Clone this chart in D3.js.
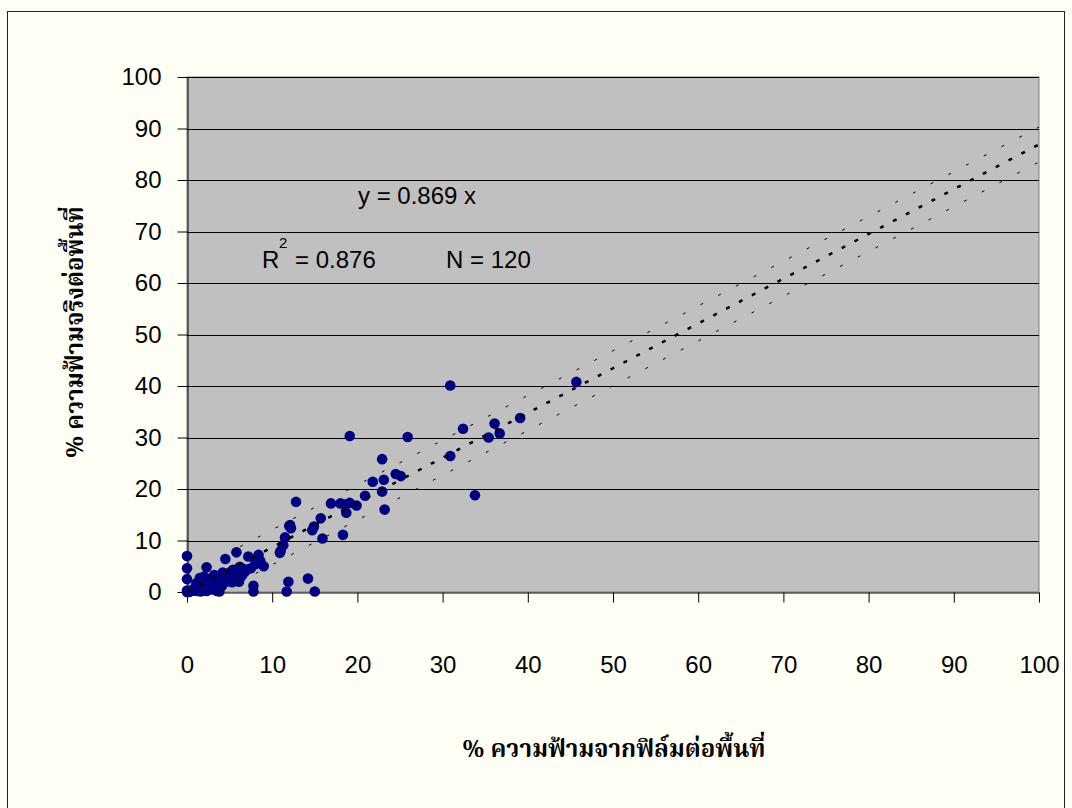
<!DOCTYPE html>
<html>
<head>
<meta charset="utf-8">
<script src="https://cdn.jsdelivr.net/npm/d3@7"></script>
<style>
	body { margin: 0; background: #fffff6; }
	svg { display: block; }
	.tick text { font-family: "Liberation Sans", Arial, sans-serif; font-size: 24px; fill: #000; }
	.note { font-family: "Liberation Sans", Arial, sans-serif; font-size: 24px; fill: #000; }
	.title { font-family: Tahoma, "Noto Serif Thai", "Noto Sans Thai", serif; font-weight: bold; font-size: 24px; fill: #000; }
</style>
</head>
<body>
<div id="chart"></div>
<script>
// % dark area read from film (x) and measured on the ground (y), 120 plots
const filmPct = [
	0, 0, 0, 0, 0, 0.5, 0.8, 1.1, 1.1, 1.4,
	1.7, 1.9, 2.0, 2.2, 2.3, 2.3, 2.5, 2.7, 2.8, 2.9,
	3.0, 3.2, 3.3, 3.5, 3.6, 3.8, 3.9, 4.0, 4.2, 4.3,
	4.5, 4.6, 4.8, 4.9, 5.0, 5.2, 5.4, 5.5, 5.6, 5.8,
	5.8, 6.0, 6.2, 6.3, 6.5, 6.8, 7.0, 7.2, 7.8, 7.8,
	8.1, 8.4, 8.6, 9.0, 1.5, 3.4, 4.1, 2.6, 5.3, 6.1,
	7.5, 8.0, 10.9, 11.3, 11.5, 11.9, 11.7, 12.1, 12.2, 12.8,
	14.2, 15.0, 14.7, 14.9, 15.7, 15.9, 16.9, 18.0, 18.7, 18.3,
	19.1, 19.9, 20.9, 19.1, 11.0, 21.8, 22.9, 23.1, 22.9, 23.2,
	24.5, 25.1, 25.9, 30.9, 32.4, 30.9, 33.8, 35.4, 36.1, 36.7,
	39.1, 45.7, 0.2, 0.3, 1.0, 1.6, 2.1, 3.1, 4.7, 5.9,
	6.6, 12.0, 18.5, 0.1, 2.4, 3.7, 4.5, 5.1, 6.4, 1.3
];
const groundPct = [
	0, 0.3, 2.5, 4.6, 7.0, 0.2, 0.6, 1.7, 0.2, 1.0,
	2.3, 0.4, 3.0, 1.8, 4.8, 0.2, 1.2, 1.7, 2.6, 0.5,
	2.2, 3.3, 3.0, 0.2, 1.5, 0.1, 2.4, 2.8, 3.8, 3.0,
	6.4, 2.0, 3.6, 2.4, 2.8, 4.0, 4.3, 2.5, 3.1, 7.7,
	2.3, 3.6, 4.9, 2.9, 3.3, 4.0, 4.3, 6.9, 1.2, 0.1,
	5.8, 7.2, 6.0, 5.0, 2.7, 1.0, 1.2, 0.8, 1.9, 2.0,
	4.6, 5.4, 7.6, 9.1, 10.6, 2.0, 0.1, 13.0, 12.4, 17.5,
	2.6, 0.1, 12.0, 12.7, 14.3, 10.4, 17.2, 17.2, 15.4, 11.1,
	17.3, 16.8, 18.7, 30.3, 8.0, 21.4, 25.8, 21.8, 19.5, 16.0,
	22.9, 22.5, 30.1, 40.1, 31.7, 26.4, 18.8, 30.0, 32.7, 30.8,
	33.8, 40.8, 0, 0.1, 0.5, 0.1, 1.0, 1.4, 3.0, 4.2,
	4.5, 12.8, 17.0, 0.1, 2.4, 3.1, 2.6, 3.5, 3.8, 1.3
];

const axisTicks = [0, 10, 20, 30, 40, 50, 60, 70, 80, 90, 100];

// fitted line through the origin and its band
const slope = 0.869;
const band = 3.4;
const rSquared = "0.876";
const nPlots = 120;

const xTitle = "% ความฟ้ามจากฟิล์มต่อพื้นที่";
const yTitle = "% ความฟ้ามจริงต่อพื้นที่";

const points = filmPct.map((x, i) => ({ x: x, y: groundPct[i] }));

const svg = d3
	.select("#chart")
	.append("svg")
	.attr("width", 1072)
	.attr("height", 808);

// outer frame
svg.append("rect")
	.attr("x", 7.5)
	.attr("y", 11.5)
	.attr("width", 1057)
	.attr("height", 820)
	.attr("fill", "#fffff6")
	.attr("stroke", "#222");

const x = d3.scaleLinear().domain([0, 100]).range([187, 1039]);
const y = d3.scaleLinear().domain([0, 100]).range([592, 77]);

// grey plot area
svg.append("rect")
	.attr("x", x(0))
	.attr("y", y(100))
	.attr("width", x(100) - x(0))
	.attr("height", y(0) - y(100))
	.attr("fill", "#c0c0c0")
	.attr("stroke", "#808080");

// horizontal grid lines
svg.append("g")
	.selectAll("line")
	.data(axisTicks.slice(1))
	.enter()
	.append("line")
	.attr("x1", x(0))
	.attr("x2", x(100))
	.attr("y1", (d) => Math.round(y(d)) + 0.5)
	.attr("y2", (d) => Math.round(y(d)) + 0.5)
	.attr("stroke", "#000");

// axes
svg.append("g")
	.attr("transform", "translate(" + (x(0) + 0.5) + ",0)")
	.call(d3.axisLeft(y).tickValues(axisTicks).tickSize(10).tickPadding(16).tickSizeOuter(0))
	.call((g) => g.selectAll("line, path").attr("stroke", "#000"));

svg.append("g")
	.attr("transform", "translate(0," + (y(0) + 0.5) + ")")
	.call(d3.axisBottom(x).tickValues(axisTicks).tickSize(10).tickPadding(53).tickSizeOuter(0))
	.call((g) => g.selectAll("line, path").attr("stroke", "#000"));

// scatter
svg.append("g")
	.selectAll("circle")
	.data(points)
	.enter()
	.append("circle")
	.attr("cx", (d) => x(d.x))
	.attr("cy", (d) => y(d.y))
	.attr("r", 5.3)
	.attr("fill", "#000080");

// trend line and band lines
const line = d3.line().x((d) => x(d[0])).y((d) => y(d[1]));

svg.append("path")
	.attr("d", line([[0, 0], [100, slope * 100]]))
	.attr("fill", "none")
	.attr("stroke", "#000")
	.attr("stroke-width", 2.5)
	.attr("stroke-dasharray", "4,10.5");

svg.append("path")
	.attr("d", line([[0, band], [100, slope * 100 + band]]))
	.attr("fill", "none")
	.attr("stroke", "#000")
	.attr("stroke-width", 1)
	.attr("stroke-dasharray", "3,17");

svg.append("path")
	.attr("d", line([[band / slope, 0], [100, slope * 100 - band]]))
	.attr("fill", "none")
	.attr("stroke", "#000")
	.attr("stroke-width", 1)
	.attr("stroke-dasharray", "3,17");

// equation labels
svg.append("text").attr("class", "note").attr("x", 358).attr("y", 204).text("y = " + slope + " x");
svg.append("text").attr("class", "note").attr("x", 262).attr("y", 268).text("R");
svg.append("text").attr("class", "note").attr("x", 279).attr("y", 248).style("font-size", "15px").text("2");
svg.append("text").attr("class", "note").attr("x", 295).attr("y", 268).text("= " + rSquared);
svg.append("text").attr("class", "note").attr("x", 446).attr("y", 268).text("N = " + nPlots);

// axis titles
svg.append("text")
	.attr("class", "title")
	.attr("x", 614)
	.attr("y", 757)
	.attr("text-anchor", "middle")
	.text(xTitle);

svg.append("text")
	.attr("class", "title")
	.attr("transform", "translate(83,332) rotate(-90)")
	.attr("text-anchor", "middle")
	.text(yTitle);
</script>
</body>
</html>
